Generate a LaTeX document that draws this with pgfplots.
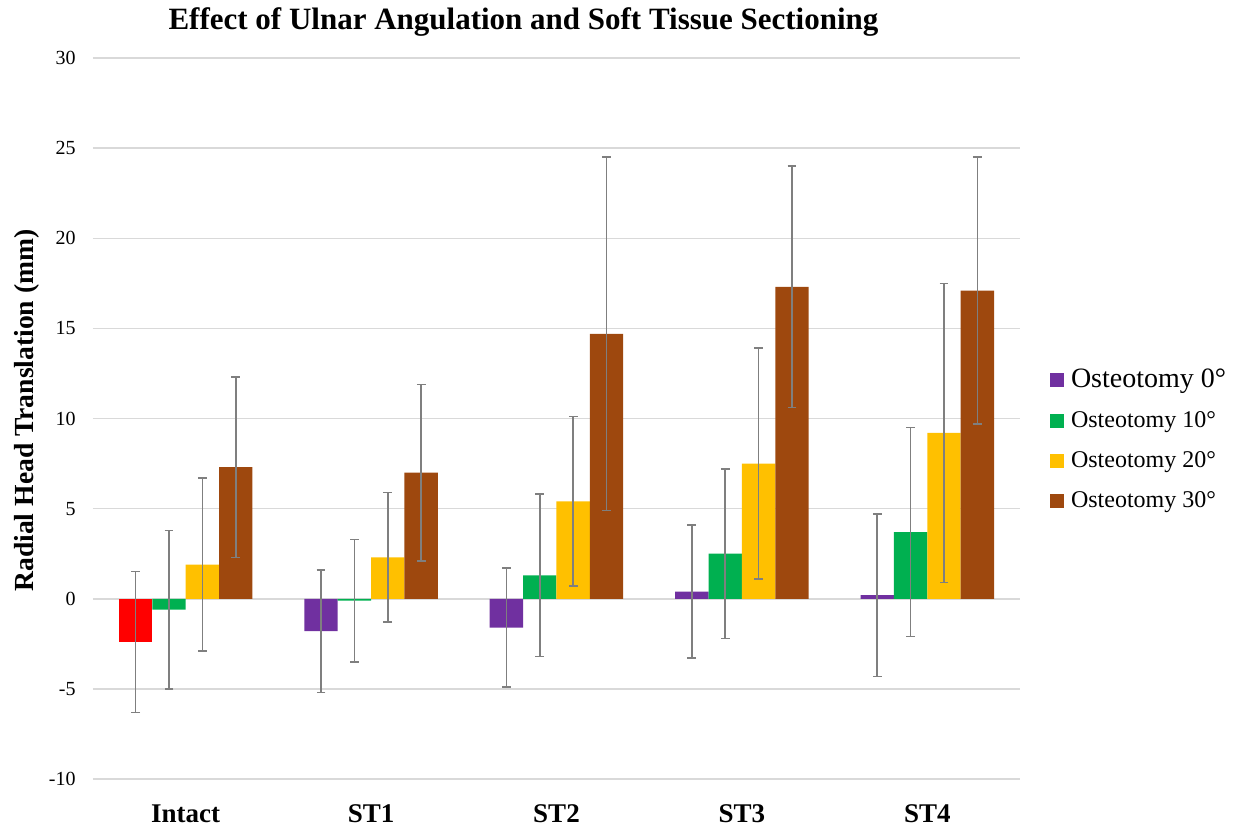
\documentclass[border=0pt]{standalone}
\usepackage{pgfplots}
\pgfplotsset{compat=1.18}
\usepackage{fontspec}
\setmainfont{Liberation Serif}
\definecolor{cPurple}{HTML}{7030A0}
\definecolor{cGreen}{HTML}{00B050}
\definecolor{cYellow}{HTML}{FFC000}
\definecolor{cBrown}{HTML}{9E480E}
\definecolor{cRed}{HTML}{FF0000}
\definecolor{errgray}{HTML}{7F7F7F}
\definecolor{gridgray}{HTML}{D9D9D9}
\pgfplotsset{
  mybar/.style={draw=none, fill=#1,
    error bars/y dir=both, error bars/y explicit,
    error bars/error bar style={line width=0.75pt, color=errgray},
    error bars/error mark options={rotate=90, mark size=2.2pt, line width=0.75pt, color=errgray}},
}
\begin{document}
\begin{tikzpicture}
\useasboundingbox (-46.5pt,-23.5pt) rectangle (570pt,389.5pt);
\begin{axis}[
  at={(0pt,0pt)}, anchor=south west,
  scale only axis, width=463.5pt, height=360.5pt,
  xmin=-0.5, xmax=4.5, ymin=-10, ymax=30,
  enlargelimits=false,
  ybar, bar width=16.686pt,
  axis lines*=left, axis line style={draw=none},
  major tick length=0pt,
  xtick={0,1,2,3,4}, xticklabels={Intact,ST1,ST2,ST3,ST4},
  ytick={-10,-5,0,5,10,15,20,25,30},
  yticklabels={-10,-5,0,5,10,15,20,25,30},
  ymajorgrids, xmajorgrids=false,
  major grid style={color=gridgray, line width=0.75pt},
  xticklabel style={anchor=north, inner sep=0pt, yshift=-12.5pt, font=\bfseries\fontsize{13.5}{16}\selectfont},
  yticklabel style={anchor=east, inner sep=0pt, xshift=-8.5pt, font=\fontsize{10}{12}\selectfont},
  ylabel={Radial Head Translation (mm)},
  ylabel style={at={(axis description cs:-0.0712,0.5111)}, anchor=center, font=\bfseries\fontsize{13.8}{16}\selectfont},
  legend style={at={(1.0324,0.571)}, anchor=north west, draw=none, fill=none,
    inner sep=0pt, outer sep=0pt, column sep=3.5pt, row sep=7.1pt,
    font=\fontsize{12}{14}\selectfont,
    nodes={inner sep=0pt, text height=10pt, text depth=3pt}},
  legend cell align=left,
  legend image code/.code={\fill[#1] (0pt,-3.5pt) rectangle (7pt,3.5pt);},
]
\addplot[mybar=cPurple, bar shift=-25.03pt] coordinates {
  (1,-1.8) +- (0,3.4)
  (2,-1.6) +- (0,3.3)
  (3,0.4) +- (0,3.7)
  (4,0.2) +- (0,4.5)
};
\addlegendentry{\fontsize{14}{16}\selectfont Osteotomy 0°}
\addplot[mybar=cGreen, bar shift=-8.343pt] coordinates {
  (0,-0.6) +- (0,4.4)
  (1,-0.1) +- (0,3.4)
  (2,1.3) +- (0,4.5)
  (3,2.5) +- (0,4.7)
  (4,3.7) +- (0,5.8)
};
\addlegendentry{Osteotomy 10°}
\addplot[mybar=cYellow, bar shift=8.343pt] coordinates {
  (0,1.9) +- (0,4.8)
  (1,2.3) +- (0,3.6)
  (2,5.4) +- (0,4.7)
  (3,7.5) +- (0,6.4)
  (4,9.2) +- (0,8.3)
};
\addlegendentry{Osteotomy 20°}
\addplot[mybar=cBrown, bar shift=25.03pt] coordinates {
  (0,7.3) +- (0,5.0)
  (1,7.0) +- (0,4.9)
  (2,14.7) +- (0,9.8)
  (3,17.3) +- (0,6.7)
  (4,17.1) +- (0,7.4)
};
\addlegendentry{Osteotomy 30°}
\addplot[mybar=cRed, bar shift=-25.03pt, forget plot] coordinates {
  (0,-2.4) +- (0,3.9)
};
\end{axis}
\node[font=\bfseries\fontsize{15.5}{18}\selectfont] at (215.25pt,378.5pt) {Effect of Ulnar Angulation and Soft Tissue Sectioning};
\end{tikzpicture}
\end{document}
